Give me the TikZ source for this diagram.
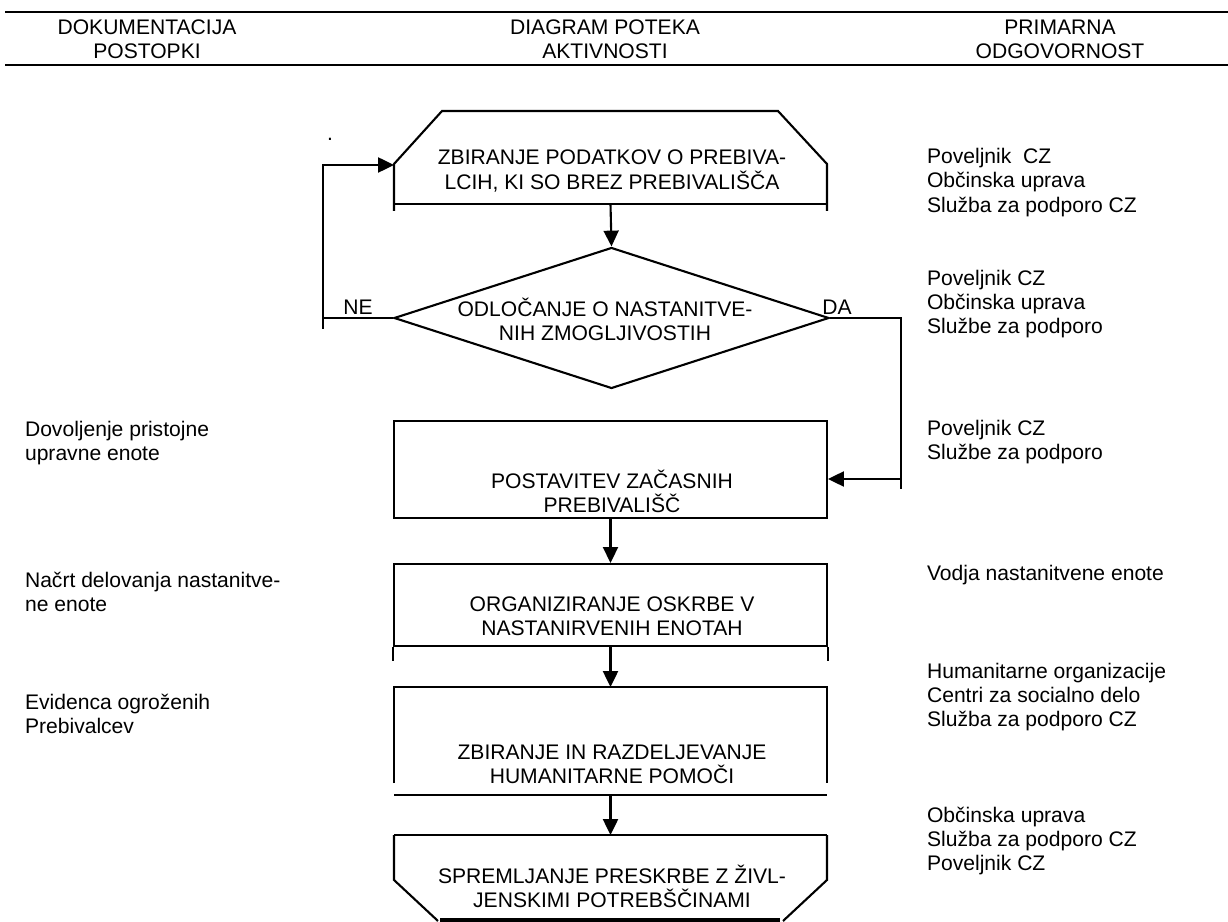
\documentclass[tikz,border=0pt]{standalone}
\usepackage{fontspec}
\setmainfont{Liberation Sans}
\usetikzlibrary{shapes.geometric,arrows.meta}

\tikzset{
  box/.style={draw,line width=1.2pt,minimum width=8.66cm,inner sep=0pt},
  dia/.style={draw,diamond,line width=1.2pt,minimum width=8.7cm,minimum height=2.82cm,inner sep=0pt},
  lbl/.style={font=\fontsize{12}{13.7}\selectfont,align=center,inner sep=0pt},
  col/.style={font=\fontsize{12}{13.7}\selectfont,align=left,anchor=west,inner sep=0pt},
  arr/.style={line width=1.2pt,-{Triangle[length=9pt,width=8.5pt]}}
}

\begin{document}
\begin{tikzpicture}[x=0.02cm,y=-0.02cm,line width=1.2pt]
\useasboundingbox (0,0) rectangle (1228,922);

% glava
\draw[line width=1.7pt] (5,12) -- (1228,12);
\draw[line width=1.7pt] (5,65) -- (1228,65);
\node[lbl] (dok) at (147,39) {DOKUMENTACIJA\\POSTOPKI};
\node[lbl] (diag) at (605,39) {DIAGRAM POTEKA\\AKTIVNOSTI};
\node[lbl] (odg) at (1060,39) {PRIMARNA\\ODGOVORNOST};

% diagram
\draw (394,211) -- (394,164) -- (442,111) -- (778,111) -- (827,164) -- (827,211);
\draw (394,204) -- (827,204);
\coordinate (zbirL) at (394,165);
\coordinate (zbirS) at (610.5,204);
\node[lbl] (zbir) at (612,171) {ZBIRANJE PODATKOV O PREBIVA-\\LCIH, KI SO BREZ PREBIVALIŠČA};
\node[lbl] (pika) at (330,139) {.};

\node[dia] (odl) at (611.5,318) {};
\node[lbl] (odlT) at (605,319) {ODLOČANJE O NASTANITVE-\\NIH ZMOGLJIVOSTIH};
\node[lbl] (ne) at (358,307) {NE};
\node[lbl] (da) at (837,307) {DA};

\node[box,minimum height=1.94cm] (post) at (610.5,469.5) {};
\node[lbl] (postT) at (612,491) {POSTAVITEV ZAČASNIH\\PREBIVALIŠČ};

\node[box,minimum height=1.64cm] (org) at (610.5,605) {};
\node[lbl] (orgT) at (612,616.5) {ORGANIZIRANJE OSKRBE V\\NASTANIRVENIH ENOTAH};
\draw (org.south west) -- ++(0,14) (org.south east) -- ++(0,14);

\draw (394,783) -- (394,687) -- (827,687) -- (827,783);
\draw (394,795) -- (827,795);
\coordinate (humN) at (610.5,687);
\coordinate (humS) at (610.5,795);
\node[lbl] (hum) at (612,764) {ZBIRANJE IN RAZDELJEVANJE\\HUMANITARNE POMOČI};

\draw (394,835) -- (827,835);
\draw (394,835) -- (394,880) -- (438,921);
\draw (827,835) -- (827,880) -- (783,921);
\draw[line width=1.8pt] (440,920) -- (780,920);
\coordinate (sprN) at (610.5,835);
\node[lbl] (spr) at (612,886) {SPREMLJANJE PRESKRBE Z ŽIVL-\\JENSKIMI POTREBŠČINAMI};

% puscice
\draw[arr] (zbirS) -- (odl.north);
\coordinate (neC) at (323,329);
\draw (odl.west) -- (odl.west -| neC);
\draw[arr] (neC) |- (zbirL);
\coordinate (daC) at (901,489);
\draw (odl.east) -| (daC);
\coordinate (daIn) at (901,479);
\draw[arr] (daIn) -- (daIn -| post.east);
\draw[arr] (post.south) -- (org.north);
\draw[arr] (org.south) -- (humN);
\draw[arr] (humS) -- (sprN);

% dokumentacija
\node[col] (dov) at (24,443) {Dovoljenje pristojne\\upravne enote};
\node[col] (nac) at (24,591.5) {Načrt delovanja nastanitve-\\ne enote};
\node[col] (evi) at (24,714) {Evidenca ogroženih\\Prebivalcev};

% odgovornost
\node[col] (odg1) at (926,182.5) {Poveljnik\ \ CZ\\Občinska uprava\\Služba za podporo CZ};
\node[col] (odg2) at (926,304) {Poveljnik CZ\\Občinska uprava\\Službe za podporo};
\node[col] (odg3) at (926,442) {Poveljnik CZ\\Službe za podporo};
\node[col] (odg4) at (926,575) {Vodja nastanitvene enote};
\node[col] (odg5) at (926,697) {Humanitarne organizacije\\Centri za socialno delo\\Služba za podporo CZ};
\node[col] (odg6) at (926,841) {Občinska uprava\\Služba za podporo CZ\\Poveljnik CZ};
\end{tikzpicture}
\end{document}
